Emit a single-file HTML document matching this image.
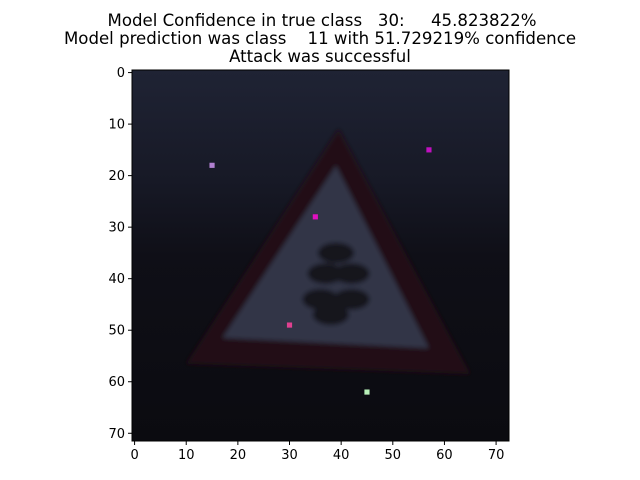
<!DOCTYPE html>
<html><head><meta charset="utf-8"><style>
html,body{margin:0;padding:0;background:#fff}
svg{display:block}
text{font-family:"DejaVu Sans","Liberation Sans",sans-serif;fill:#000;white-space:pre}
</style></head><body>
<svg id="chart" width="640" height="480" viewBox="0 0 640 480" xmlns="http://www.w3.org/2000/svg" xml:space="preserve">
<defs>
<linearGradient id="bg" x1="0" y1="0" x2="0" y2="1">
<stop offset="0" stop-color="#1f2334"/><stop offset="0.3" stop-color="#171926"/><stop offset="0.5" stop-color="#0f0f17"/><stop offset="1" stop-color="#0b0b10"/>
</linearGradient>
<filter id="blur"><feGaussianBlur stdDeviation="2.5"/></filter>
<clipPath id="clip"><rect x="132" y="70" width="377" height="371"/></clipPath>
</defs>
<g>
<text x="322" y="26" text-anchor="middle" font-size="16.6">Model Confidence in true class   30:     45.823822%</text>
<text x="320" y="44" text-anchor="middle" font-size="16.6">Model prediction was class    11 with 51.729219% confidence</text>
<text x="320" y="62" text-anchor="middle" font-size="16.6">Attack was successful</text>
</g>
<g id="img" clip-path="url(#clip)"></g>
<rect x="132" y="70" width="377" height="371" fill="none" stroke="#000" stroke-width="1"/>
<g id="ticks"></g>
</svg>
<script>
const xTicks=[0,10,20,30,40,50,60,70];
const yTicks=[0,10,20,30,40,50,60,70];
const pixCols=[15,57,35,30,45];
const pixRows=[18,15,28,49,62];
const pixColors=['#b080d0','#c010c0','#e010c0','#e04090','#b8f0b8'];
const outerTri=[[39.5,11],[10,56.5],[65,58.5]];
const innerTri=[[39,18],[17,51.5],[57,53.5]];
const blobCols=[39,37,42,36,42,38];
const blobRows=[35,39,39,44,44,47];
const NS='http://www.w3.org/2000/svg';
const X0=132,X1=509,Y0=70,Y1=441,NX=73,NY=72;
const sx=v=>X0+(v+0.5)*(X1-X0)/NX;
const sy=v=>Y0+(v+0.5)*(Y1-Y0)/NY;
const pw=(X1-X0)/NX, ph=(Y1-Y0)/NY;
function mk(t,a,p){const e=document.createElementNS(NS,t);for(const k in a)e.setAttribute(k,a[k]);p.appendChild(e);return e;}
const img=document.getElementById('img');
const bg=mk('rect',{x:X0,y:Y0,width:X1-X0,height:Y1-Y0,fill:'url(#bg)'},img);


const tg=mk('g',{filter:'url(#blur)'},img);
const pts=a=>a.map(p=>sx(p[0])+','+sy(p[1])).join(' ');
const o=mk('polygon',{points:pts(outerTri),fill:'#231016'},tg);


const i=mk('polygon',{points:pts(innerTri),fill:'#313446'},tg);


for(let k=0;k<blobCols.length;k++){
 const b=mk('ellipse',{cx:sx(blobCols[k]),cy:sy(blobRows[k]),rx:pw*3.5,ry:ph*2,fill:'#12131c'},tg);
 
 
}
for(let k=0;k<pixCols.length;k++){
 const r=mk('rect',{x:sx(pixCols[k])-pw/2,y:sy(pixRows[k])-ph/2,width:pw,height:ph,fill:pixColors[k]},img);
 
 
}
const tk=document.getElementById('ticks');
xTicks.forEach(v=>{
 const x=sx(v);
 mk('line',{x1:x,x2:x,y1:Y1,y2:Y1+4,stroke:'#000'},tk);
 const t=mk('text',{x:x,y:Y1+18,'text-anchor':'middle','font-size':'13'},tk);
 t.textContent=v;
 
 
});
yTicks.forEach(v=>{
 const y=sy(v);
 mk('line',{x1:X0-4,x2:X0,y1:y,y2:y,stroke:'#000'},tk);
 const t=mk('text',{x:X0-7,y:y+4.5,'text-anchor':'end','font-size':'13'},tk);
 t.textContent=v;
 
 
});
</script>
</body></html>
